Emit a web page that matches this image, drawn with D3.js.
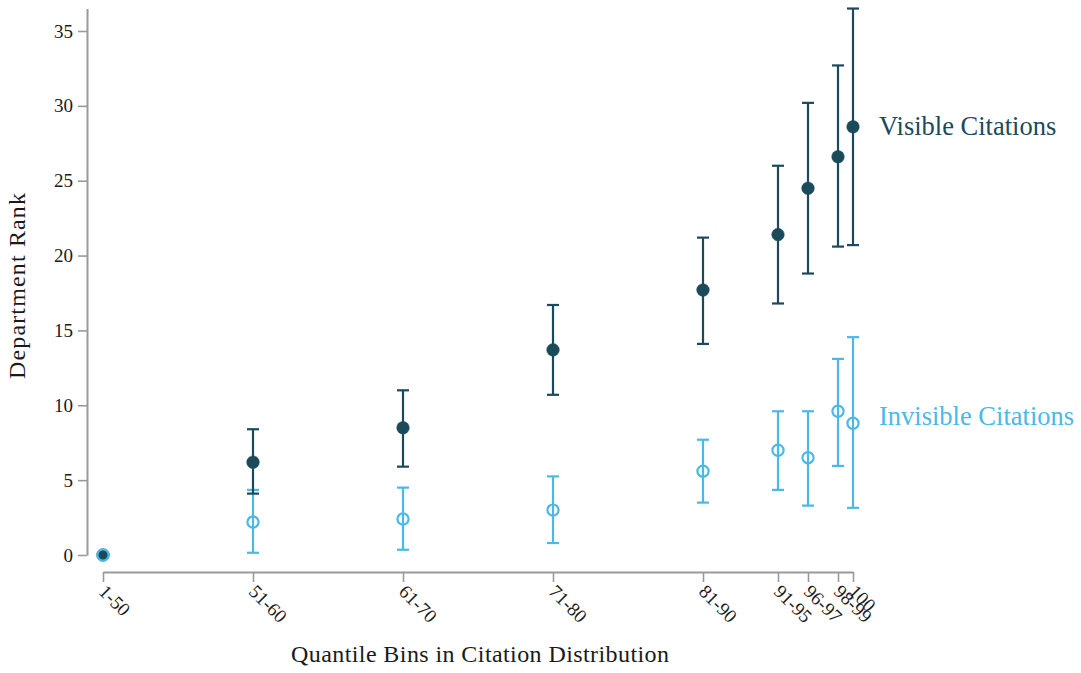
<!DOCTYPE html>
<html>
<head>
<meta charset="utf-8">
<script src="https://cdn.jsdelivr.net/npm/d3@7"></script>
<style>
  html, body { margin: 0; padding: 0; background: #fff; }
  svg { display: block; font-family: "Liberation Serif", "DejaVu Serif", serif; }
</style>
</head>
<body>
<svg id="chart" width="1081" height="673"></svg>
<script>
// Percentile bins (labels) and their upper bound, which sets the x position
const binLabels = ["1-50", "51-60", "61-70", "71-80", "81-90", "91-95", "96-97", "98-99", "100"];
const binUpper  = [50, 60, 70, 80, 90, 95, 97, 99, 100];

// Visible citations: point estimate with confidence interval
const visibleMean  = [0, 6.2, 8.5, 13.7, 17.7, 21.4, 24.5, 26.6, 28.6];
const visibleLow   = [0, 4.1, 5.9, 10.7, 14.1, 16.8, 18.8, 20.6, 20.7];
const visibleHigh  = [0, 8.4, 11.0, 16.7, 21.2, 26.0, 30.2, 32.7, 36.5];

// Invisible citations: point estimate with confidence interval
const invisibleMean = [0, 2.2, 2.4, 3.0, 5.6, 7.0, 6.5, 9.6, 8.8];
const invisibleLow  = [0, 0.15, 0.35, 0.8, 3.5, 4.35, 3.3, 5.95, 3.15];
const invisibleHigh = [0, 4.35, 4.5, 5.25, 7.7, 9.6, 9.6, 13.1, 14.55];

const yTicks = [0, 5, 10, 15, 20, 25, 30, 35];

const darkColor = "#1b4a5b";
const lightColor = "#4cb8e6";
const axisColor = "#9a9a9a";
const textColor = "#1a1a1a";

const svg = d3.select("#chart");

const x = d3.scaleLinear().domain([50, 100]).range([103, 853]);
const yMax = d3.max(visibleHigh.concat(invisibleHigh));
const y = d3.scaleLinear().domain([0, yMax]).range([555, 555 - yMax * (524 / 35)]);

// Y axis
const yAxis = svg.append("g")
  .attr("transform", "translate(87,0)")
  .call(d3.axisLeft(y).tickValues(yTicks).tickSize(9).tickSizeOuter(0).tickPadding(5));
yAxis.select(".domain").attr("stroke", axisColor).attr("stroke-width", 2);
yAxis.selectAll(".tick line").attr("stroke", axisColor).attr("stroke-width", 1.6);
yAxis.selectAll(".tick text")
  .attr("fill", textColor).attr("font-size", 19)
  .attr("font-family", "'Liberation Serif', serif");

// X axis with rotated bin labels
const xAxis = svg.append("g")
  .attr("transform", "translate(0,572)")
  .call(d3.axisBottom(x).tickValues(binUpper)
    .tickFormat((d, i) => binLabels[i]).tickSize(10).tickSizeOuter(0));
xAxis.select(".domain").attr("stroke", axisColor).attr("stroke-width", 2);
xAxis.selectAll(".tick line").attr("stroke", axisColor).attr("stroke-width", 1.6);
xAxis.selectAll(".tick text")
  .attr("fill", textColor).attr("font-size", 19)
  .attr("font-family", "'Liberation Serif', serif")
  .attr("text-anchor", "start")
  .attr("x", 0).attr("y", 0).attr("dy", "0.35em")
  .attr("transform", "translate(-1,16) rotate(45)");

// Axis titles
svg.append("text")
  .attr("x", 480).attr("y", 662)
  .attr("text-anchor", "middle")
  .attr("fill", textColor)
  .attr("font-size", 24)
  .attr("textLength", 378).attr("lengthAdjust", "spacing")
  .text("Quantile Bins in Citation Distribution");

svg.append("text")
  .attr("transform", "translate(25,286) rotate(-90)")
  .attr("text-anchor", "middle")
  .attr("fill", textColor)
  .attr("font-size", 24)
  .attr("textLength", 186).attr("lengthAdjust", "spacing")
  .text("Department Rank");

// Error bars for one series
function drawBars(mean, low, high, color) {
  const rows = binUpper.map((b, i) => ({ b, m: mean[i], lo: low[i], hi: high[i] }))
    .filter(r => r.hi > r.lo);
  const g = svg.append("g");
  const capHalf = 6;
  g.selectAll("line.whisker").data(rows).join("line")
    .attr("x1", r => x(r.b)).attr("x2", r => x(r.b))
    .attr("y1", r => y(r.lo)).attr("y2", r => y(r.hi))
    .attr("stroke", color).attr("stroke-width", 2.2);
  g.selectAll("line.capHi").data(rows).join("line")
    .attr("x1", r => x(r.b) - capHalf).attr("x2", r => x(r.b) + capHalf)
    .attr("y1", r => y(r.hi)).attr("y2", r => y(r.hi))
    .attr("stroke", color).attr("stroke-width", 2.2);
  g.selectAll("line.capLo").data(rows).join("line")
    .attr("x1", r => x(r.b) - capHalf).attr("x2", r => x(r.b) + capHalf)
    .attr("y1", r => y(r.lo)).attr("y2", r => y(r.lo))
    .attr("stroke", color).attr("stroke-width", 2.2);
}

// Point markers for one series
function drawPoints(mean, color, filled) {
  svg.append("g").selectAll("circle").data(binUpper).join("circle")
    .attr("cx", (b) => x(b)).attr("cy", (b, i) => y(mean[i]))
    .attr("r", filled ? 6.3 : 5.6)
    .attr("fill", filled ? color : "none")
    .attr("stroke", color)
    .attr("stroke-width", filled ? 0.5 : 2.2);
}

drawBars(invisibleMean, invisibleLow, invisibleHigh, lightColor);
drawBars(visibleMean, visibleLow, visibleHigh, darkColor);
drawPoints(visibleMean, darkColor, true);
drawPoints(invisibleMean, lightColor, false);

// Series labels beside the last bin
const lastIdx = binUpper.length - 1;
svg.append("text")
  .attr("x", 879).attr("y", y(visibleMean[lastIdx]) + 8)
  .attr("fill", darkColor)
  .attr("font-size", 26.5)
  .text("Visible Citations");
svg.append("text")
  .attr("x", 879).attr("y", 425)
  .attr("fill", lightColor)
  .attr("font-size", 26.5)
  .text("Invisible Citations");
</script>
</body>
</html>
